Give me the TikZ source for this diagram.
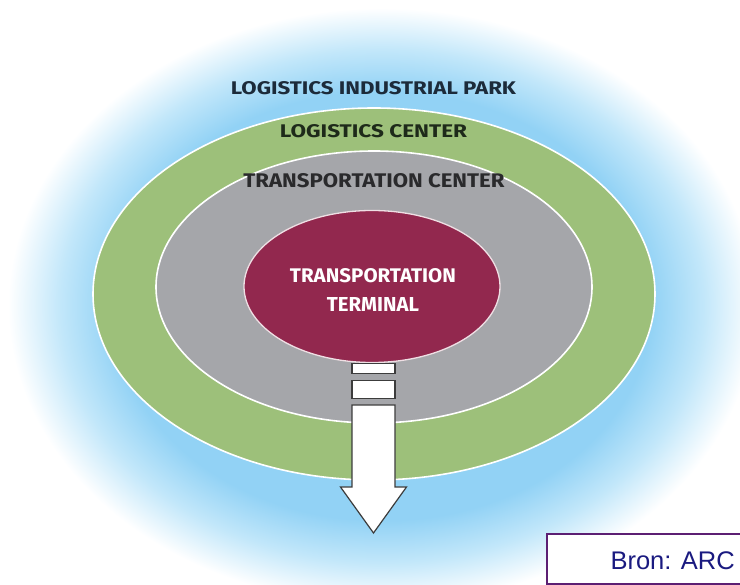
\documentclass[tikz,border=0pt]{standalone}
\usepackage{fontspec}
\setmainfont{Liberation Sans}
\newfontfamily\ringfont{Fira Sans}
\usetikzlibrary{shapes.geometric}

\definecolor{hazeblue}{HTML}{92D2F5}
\definecolor{hazemid}{HTML}{C2E7FA}
\definecolor{parkgreen}{HTML}{9DC07A}
\definecolor{centergray}{HTML}{A5A6AA}
\definecolor{terminalred}{HTML}{92284E}
\definecolor{parkink}{HTML}{1C2B3A}
\definecolor{centerink}{HTML}{1E2A1A}
\definecolor{transink}{HTML}{2A2A2C}
\definecolor{sourceframe}{HTML}{5C1F73}
\definecolor{sourceink}{HTML}{1A1A80}
\definecolor{arrowline}{HTML}{3C3C3C}

% soft sky glow that fades to white at the rim of its ellipse
\pgfdeclareradialshading{haze}{\pgfpoint{0bp}{0bp}}{%
  color(0bp)=(hazeblue); color(18bp)=(hazeblue); color(21.5bp)=(hazemid);
  color(25bp)=(white); color(50bp)=(white)}

% bold caption stretched to a given width and cap height
\newcommand\ringlabel[3]{\resizebox{#1}{#2}{\ringfont\bfseries #3}}

\tikzset{
  ring/.style={ellipse, inner sep=0pt, outer sep=0pt},
  caption/.style={inner sep=0pt, outer sep=0pt},
  segment/.style={rectangle, inner sep=0pt, fill=white, draw=arrowline,
    line width=1.2pt, minimum width=43pt},
}

\begin{document}
\begin{tikzpicture}[x=1pt, y=-1pt]
  \clip (0,0) rectangle (740,585);
  \fill[white] (0,0) rectangle (740,585);

  % background glow
  \shade[shading=haze] (382,306) ellipse [x radius=374, y radius=298];

  % nested zones
  \node[ring, minimum width=562pt, minimum height=372pt, fill=parkgreen,
        draw=white, line width=1.6pt] (lc) at (374,294) {};
  \node[ring, minimum width=436pt, minimum height=272pt, fill=centergray,
        draw=white, line width=1.6pt] (tc) at (374,287) {};
  \node[ring, minimum width=256pt, minimum height=152pt, fill=terminalred,
        draw=white!85!terminalred, line width=1.3pt] (tt) at (372,286.5) {};

  % outbound arrow from the terminal
  \node[segment, minimum height=10pt] (seg1) at (373.5,368.3) {};
  \node[segment, minimum height=18pt] (seg2) at (373.5,389.2) {};
  \coordinate (tip) at (373.5,533);
  \draw[fill=white, draw=arrowline, line width=1.2pt, line join=miter]
    (352,405) -- (395,405) -- (395,487) -- (406.5,487) -- (tip)
    -- (340.5,487) -- (352,487) -- cycle;

  % zone captions
  \node[caption, text=parkink] (lblpark) at (373.5,88.3)
    {\ringlabel{285pt}{13pt}{LOGISTICS INDUSTRIAL PARK}};
  \node[caption, text=centerink] (lblcenter) at (373.5,130.8)
    {\ringlabel{187pt}{13pt}{LOGISTICS CENTER}};
  \node[caption, text=transink] (lbltrans) at (374,180.5)
    {\ringlabel{261pt}{14pt}{TRANSPORTATION CENTER}};
  \node[caption, text=white] (lblterm1) at (373,275.5)
    {\ringlabel{166pt}{14pt}{TRANSPORTATION}};
  \node[caption, text=white] (lblterm2) at (373,304.5)
    {\ringlabel{92pt}{14pt}{TERMINAL}};

  % source note
  \node[draw=sourceframe, line width=1.8pt, fill=white, inner sep=0pt,
        minimum width=210pt, minimum height=50pt, anchor=north west]
        (srcbox) at (546,533) {};
  \node[text=sourceink, font=\fontsize{25.5}{30}\selectfont, anchor=base east,
        inner sep=0pt] (src) at (735,569) {Bron: ARC};
\end{tikzpicture}
\end{document}
